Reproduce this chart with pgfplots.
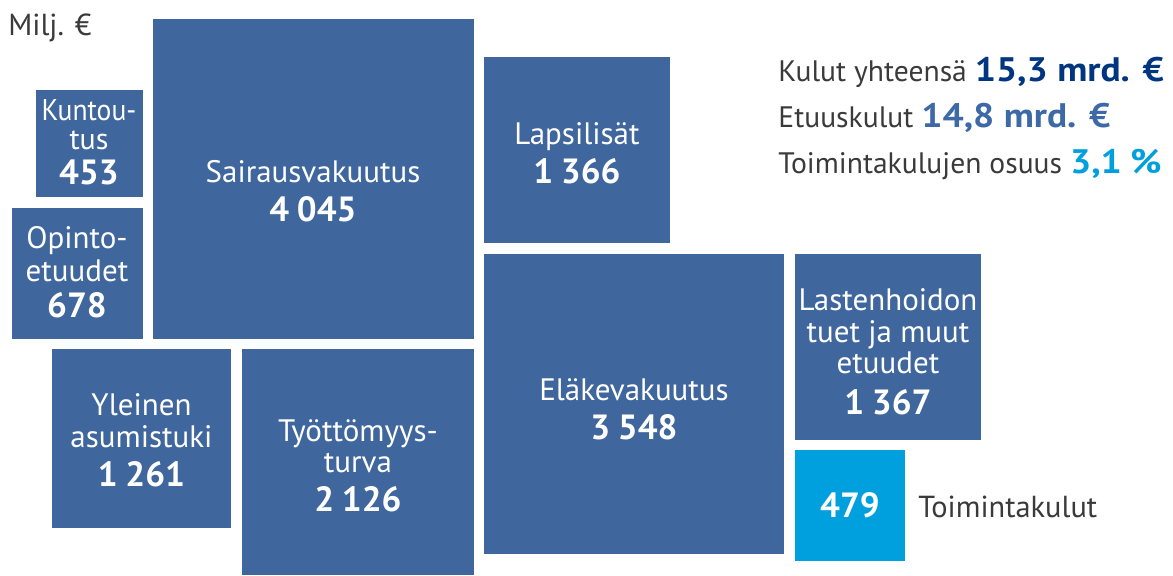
\documentclass[border=0pt]{standalone}
\usepackage{fontspec}
\setmainfont{PT Sans}
\usepackage{pgfplots}
\pgfplotsset{compat=1.18}
\definecolor{kblue}{HTML}{3F679E}
\definecolor{kcyan}{HTML}{009FDE}
\definecolor{knavy}{HTML}{003580}
\definecolor{kmid}{HTML}{3D69A6}
\definecolor{kgray}{HTML}{3A3A3A}
\newcommand{\nsp}{\hspace{0.22em}}
\newcommand{\bignum}[2]{{\color{#1}\bfseries\fontsize{17}{19}\selectfont\scalebox{1.1}[1]{#2}}}
\begin{document}
\begin{tikzpicture}[
  lab/.style={anchor=base,text=white,inner sep=0pt,font=\fontsize{15.5}{18}\selectfont},
  num/.style={anchor=base,text=white,inner sep=0pt,font=\fontsize{17.5}{20}\selectfont\bfseries},
  side/.style={anchor=base west,text=kgray,inner sep=0pt,font=\fontsize{14.8}{17}\selectfont}]
\begin{axis}[width=586.5pt,height=287.5pt,scale only axis,
  xmin=0,xmax=1173,ymin=0,ymax=575,y dir=reverse,hide axis,clip=false]
% Kuntoutus 453
\addplot[fill=kblue,draw=none] coordinates {(35.5,89.5) (143,89.5) (143,197) (35.5,197)};
% Opintoetuudet 678
\addplot[fill=kblue,draw=none] coordinates {(11.5,208) (143,208) (143,338.5) (11.5,338.5)};
% Sairausvakuutus 4045
\addplot[fill=kblue,draw=none] coordinates {(153,18.5) (473.5,18.5) (473.5,338.5) (153,338.5)};
% Lapsilisat 1366
\addplot[fill=kblue,draw=none] coordinates {(484,57) (670,57) (670,243) (484,243)};
% Yleinen asumistuki 1261
\addplot[fill=kblue,draw=none] coordinates {(52,348.5) (231,348.5) (231,527.5) (52,527.5)};
% Tyottomyysturva 2126
\addplot[fill=kblue,draw=none] coordinates {(241.5,348.5) (474,348.5) (474,575) (241.5,575)};
% Elakevakuutus 3548
\addplot[fill=kblue,draw=none] coordinates {(484,253.5) (784,253.5) (784,553.5) (484,553.5)};
% Lastenhoidon tuet 1367
\addplot[fill=kblue,draw=none] coordinates {(795,253.5) (981,253.5) (981,440) (795,440)};
% Toimintakulut 479
\addplot[fill=kcyan,draw=none] coordinates {(795,450) (904.5,450) (904.5,560.5) (795,560.5)};

\node[lab,font=\fontsize{15}{18}\selectfont] at (axis cs:89,120) {\scalebox{0.92}[1]{Kuntou-}};
\node[lab,font=\fontsize{15}{18}\selectfont] at (axis cs:89,149) {tus};
\node[num] at (axis cs:89,184) {453};

\node[lab] at (axis cs:77,248) {Opinto-};
\node[lab] at (axis cs:77,281) {etuudet};
\node[num] at (axis cs:77,317) {678};

\node[lab] at (axis cs:313,182) {Sairausvakuutus};
\node[num] at (axis cs:313,221) {4\nsp045};

\node[lab] at (axis cs:577,144) {Lapsilisät};
\node[num] at (axis cs:577,183) {1\nsp366};

\node[lab] at (axis cs:141.5,415) {Yleinen};
\node[lab] at (axis cs:141.5,447) {asumistuki};
\node[num] at (axis cs:141.5,486) {1\nsp261};

\node[lab] at (axis cs:358,441) {Työttömyys-};
\node[lab] at (axis cs:358,472) {turva};
\node[num] at (axis cs:358,511) {2\nsp126};

\node[lab] at (axis cs:634,400) {Eläkevakuutus};
\node[num] at (axis cs:634,439) {3\nsp548};

\node[lab] at (axis cs:888,310) {Lastenhoidon};
\node[lab] at (axis cs:888,342) {tuet ja muut};
\node[lab] at (axis cs:888,373) {etuudet};
\node[num] at (axis cs:888,414) {1\nsp367};

\node[num] at (axis cs:850,517) {479};
\node[side,font=\fontsize{15.2}{18}\selectfont] at (axis cs:918,517) {Toimintakulut};

\node[side,font=\fontsize{15.2}{18}\selectfont] at (axis cs:8,35) {Milj. €};

\node[side] at (axis cs:778,81) {Kulut yhteensä \bignum{knavy}{15,3 mrd. €}};
\node[side] at (axis cs:778,127) {Etuuskulut \bignum{kmid}{14,8 mrd. €}};
\node[side] at (axis cs:778,173) {Toimintakulujen osuus \bignum{kcyan}{3,1\nsp\%}};
\end{axis}
\pgfresetboundingbox
\useasboundingbox (0,0) rectangle (586.5pt,287.5pt);
\end{tikzpicture}
\end{document}
